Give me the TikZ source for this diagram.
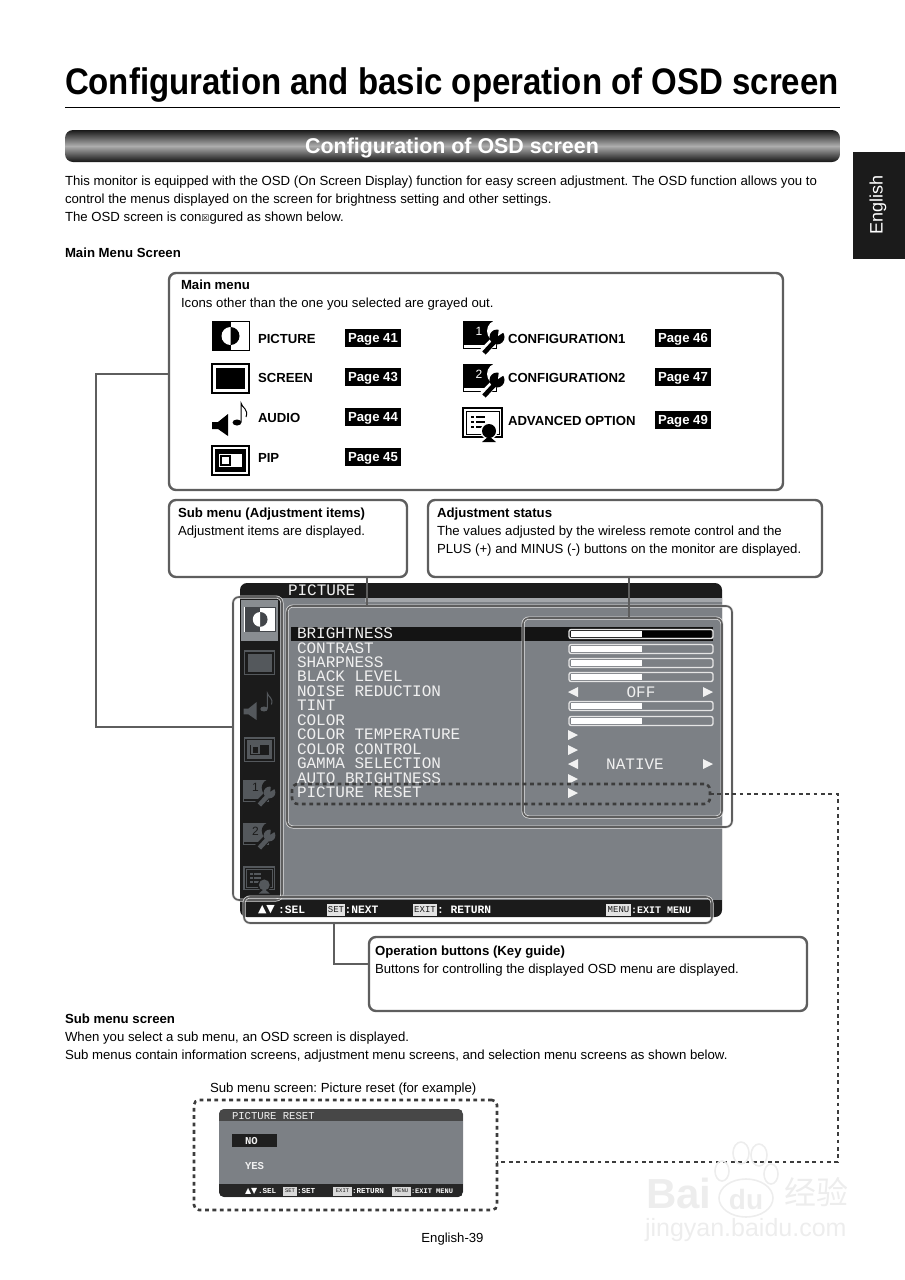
\documentclass[tikz,border=0pt]{standalone}
\usepackage{fontspec}
\setmainfont{Liberation Sans}
\setmonofont{Liberation Mono}
\newfontfamily\symfont{DejaVu Sans}
\newfontfamily\cjkfont{Noto Sans CJK SC}
\usetikzlibrary{positioning}

\newcommand{\fsz}[1]{\fontsize{#1}{#1}\selectfont}
\definecolor{osdbody}{HTML}{7C8085}
\definecolor{osddark}{HTML}{1B1B1B}
\definecolor{osdicon}{HTML}{54585C}
\definecolor{lineink}{HTML}{5E5E5E}
\definecolor{dotink}{HTML}{3C3C3C}
\colorlet{iconink}{black}
\colorlet{iconpaper}{white}

\tikzset{
  pics/iconpicture/.style={code={
    \draw[iconink, line width=.8, fill=iconpaper] (0,0) rectangle (37,29);
    \fill[iconink] (0,0) rectangle (18.5,29);
    \fill[iconink] (18.5,23.5) arc (90:-90:9) -- cycle;
    \fill[iconpaper] (18.5,23.5) arc (90:270:9) -- cycle;
  }},
  pics/iconscreen/.style={code={
    \draw[iconink, line width=1.2] (0,0) rectangle (37,29);
    \fill[iconink] (4,4) rectangle (33,25);
  }},
  pics/iconaudio/.style={code={
    \fill[iconink] (0,19) -- (6,19) -- (16,11) -- (16,33) -- (6,26) -- (0,26) -- cycle;
    \fill[iconink] (25,19.5) ellipse (4.5 and 3);
    \draw[iconink, line width=1] (29,19) -- (29,0) .. controls (30,5) and (37,6) .. (34,14);
  }},
  pics/iconpip/.style={code={
    \draw[iconink, line width=1.2] (0,0) rectangle (37,29);
    \fill[iconink] (3,3) rectangle (34,26);
    \fill[iconpaper] (7,8) rectangle (30,21);
    \fill[iconink] (8,9) rectangle (19,20);
    \fill[iconpaper] (10,11) rectangle (17,18);
  }},
  pics/iconconfig/.style={code={
    \draw[iconink, line width=1] (0,0) rectangle (33,27);
    \fill[iconink] (0,0) rectangle (30,24);
    \node[text=iconpaper, font=\fsz{12}] (digit#1) at (16,10) {#1};
    \fill[iconpaper] (35,10) circle (11);
    \draw[iconpaper, line width=8] (19,32) -- (32,19);
    \draw[iconink, line width=4.6] (21,32) -- (33,19);
    \fill[iconink] (34,16) circle (7.5);
    \fill[iconpaper] (35,15) -- (44,9) -- (36,6) -- cycle;
  }},
  pics/iconadvanced/.style={code={
    \draw[iconink, line width=1.2, fill=iconpaper] (0,0) rectangle (39,29);
    \draw[iconink, line width=.8] (3,3) rectangle (36,26);
    \foreach \rowy in {9,14,19}{
      \fill[iconink] (8,\rowy-1) rectangle (11,\rowy+1);
      \fill[iconink] (13,\rowy-1) rectangle (22,\rowy+1);
    }
    \fill[iconpaper] (26,23) circle (8.5);
    \fill[iconink] (26,23) circle (7);
    \fill[iconink] (26,28) -- (33,34) -- (19,34) -- cycle;
  }},
  pics/triright/.style={code={\fill (-5,-5) -- (5,0) -- (-5,5) -- cycle;}},
  pics/trileft/.style={code={\fill (5,-5) -- (-5,0) -- (5,5) -- cycle;}},
}

\begin{document}
\frenchspacing
\begin{tikzpicture}[
  x=1pt, y=-1pt,
  inner sep=0pt, outer sep=0pt,
  bodytxt/.style={anchor=west, yshift=-1pt, text height=10pt, text depth=3pt, font=\fsz{13.2}},
  boldtxt/.style={anchor=west, yshift=-1pt, text height=10pt, text depth=3pt, font=\fsz{13.2}\bfseries},
  itemtxt/.style={anchor=west, text height=10pt, text depth=0pt, font=\fsz{13.15}\bfseries},
  pagetag/.style={fill=black, text=white, font=\fsz{13.15}\bfseries,
                  text height=9.5pt, text depth=0pt,
                  minimum width=56, minimum height=18},
  callout/.style={draw=lineink, line width=2.4, rounded corners=7, fill=white},
  osdmark/.style={draw=white!80!gray, line width=.7, double=lineink, double distance=1.6,
               rounded corners=6},
  link/.style={draw=lineink, line width=2.4},
  dotlink/.style={draw=dotink, line width=2.6, dash pattern=on 3.8pt off 3.6pt},
  osdtxt/.style={anchor=west, font=\fsz{16}\ttfamily, text=white!88!gray},
  keytxt/.style={anchor=west, font=\fsz{11.3}\ttfamily\bfseries, text=white},
  keybox/.style={fill=white!78!gray, text=osddark, font=\fsz{9}\ttfamily,
                 minimum height=12, anchor=west},
  smalltxt/.style={anchor=west, font=\fsz{10.6}\ttfamily, text=white!88!gray},
  tinytxt/.style={anchor=west, font=\fsz{7.6}\ttfamily\bfseries, text=white},
  tinybox/.style={fill=white!70!gray, text=osddark, font=\fsz{5.5}\ttfamily,
                  minimum height=9, anchor=west},
  markwater/.style={text=gray!14, font=\fsz{42}\bfseries},
]
\useasboundingbox (0,0) rectangle (905,1280);

% ---------------- Page heading ----------------
\node[anchor=west, font=\fsz{37}\bfseries, xscale=.892, transform shape] (title) at (65,85)
  {Configuration and basic operation of OSD screen};
\draw[line width=1.6] (65,107.5) -- (840,107.5);
\node[minimum width=775, minimum height=32, rounded corners=8,
      top color=black!90, bottom color=black!92, middle color=black!32,
      shading angle=0] (banner) at (452.5,146) {};
\node[font=\fsz{21.4}\bfseries, text=white] (bannertxt) at (452,148.5) {Configuration of OSD screen};
\node[fill=osddark, minimum width=52, minimum height=107] (tab) at (879,205.5) {};
\node[rotate=90, font=\fsz{18}, text=white] (tabtxt) at (878,205) {English};

\node[bodytxt] (intro1) at (65,181) {This monitor is equipped with the OSD (On Screen Display) function for easy screen adjustment. The OSD function allows you to};
\node[bodytxt] (intro2) at (65,199) {control the menus displayed on the screen for brightness setting and other settings.};
\node[bodytxt] (intro3) at (65,217) {The OSD screen is con{\symfont\fsz{9}☒}gured as shown below.};
\node[boldtxt] (mainhead) at (65,253) {Main Menu Screen};

% ---------------- Main menu box ----------------
\node[callout, minimum width=614, minimum height=217] (mainbox) at (476,381.5) {};
\node[boldtxt] (maintitle) at (181,284.5) {Main menu};
\node[bodytxt] (mainnote) at (181,302.5) {Icons other than the one you selected are grayed out.};

\pic at (212,321.5) {iconpicture};
\pic at (212,364) {iconscreen};
\pic at (212,403) {iconaudio};
\pic at (212,446) {iconpip};
\pic at (463,321) {iconconfig=1};
\pic at (463,364) {iconconfig=2};
\pic at (463,408) {iconadvanced};

\foreach \i/\itemname/\itemy/\pagenum in {1/PICTURE/338/41, 2/SCREEN/377/43, 3/AUDIO/417/44, 4/PIP/457/45}{
  \node[itemtxt] (item\i) at (258,\itemy) {\itemname};
  \node[pagetag] (page\i) at (373,\itemy) {Page \pagenum};
}
\foreach \i/\itemname/\itemy/\pagenum in {5/CONFIGURATION1/338/46, 6/CONFIGURATION2/377/47, 7/ADVANCED OPTION/420/49}{
  \node[itemtxt] (item\i) at (508,\itemy) {\itemname};
  \node[pagetag] (page\i) at (683,\itemy) {Page \pagenum};
}

% ---------------- Sub menu and status boxes ----------------
\node[callout, minimum width=238, minimum height=77] (subbox) at (288,538.5) {};
\node[boldtxt] (subtitle) at (178,512.5) {Sub menu (Adjustment items)};
\node[bodytxt] (subnote) at (178,530.5) {Adjustment items are displayed.};

\node[callout, minimum width=394, minimum height=77] (statbox) at (625,538.5) {};
\node[boldtxt] (stattitle) at (437,512.5) {Adjustment status};
\node[bodytxt] (statnote1) at (437,530.5) {The values adjusted by the wireless remote control and the};
\node[bodytxt] (statnote2) at (437,548.5) {PLUS (+) and MINUS (-) buttons on the monitor are displayed.};

% ---------------- OSD screen ----------------
\node[fill=osddark, minimum width=482, minimum height=334, rounded corners=7] (osd) at (481,750) {};
\node[fill=osdbody, minimum width=442, minimum height=302] (osdbodybox) at (501,749) {};
\fill[osddark] (240,600) rectangle (280,900);
\fill[osdbody!70!white] (365,598) rectangle (722,602);
\fill[osdbody!90!white] (241,600) rectangle (278,641);
\node[osdtxt] (osdtitle) at (288,590.5) {PICTURE};

\fill[black!92] (291,627) rectangle (713,641);
\foreach \i/\rowname/\rowy in {1/BRIGHTNESS/633.5, 2/CONTRAST/648.5, 3/SHARPNESS/662.5, 4/BLACK LEVEL/676.5,
    5/NOISE REDUCTION/691.5, 6/TINT/705.5, 7/COLOR/720.5, 8/COLOR TEMPERATURE/734.5, 9/COLOR CONTROL/749.5,
    10/GAMMA SELECTION/763.5, 11/AUTO BRIGHTNESS/778.5, 12/PICTURE RESET/792.5}{
  \node[osdtxt] (row\i) at (297,\rowy) {\rowname};
}

% sliders
\foreach \rowy in {634,649,663,677,706,721}{
  \draw[white!80!gray, line width=1.3, rounded corners=2] (569,\rowy-4.5) rectangle (713,\rowy+4.5);
  \fill[white] (571,\rowy-3) rectangle (642,\rowy+3);
}
\fill[black] (642,631) rectangle (711,637);
\begin{scope}[white!90!gray]
  \pic at (573,692) {trileft};
  \pic at (708,692) {triright};
  \pic at (573,764) {trileft};
  \pic at (708,764) {triright};
  \pic at (573,735) {triright};
  \pic at (573,750) {triright};
  \pic at (573,779) {triright};
  \pic at (573,793) {triright};
\end{scope}
\node[osdtxt, anchor=center] (offtxt) at (641,692.5) {OFF};
\node[osdtxt, anchor=center] (nativetxt) at (635,764) {NATIVE};

% side icons
\fill[white] (244,607) rectangle (275,632);
\begin{scope}
  \colorlet{iconink}{osdicon!80!black}
  \colorlet{iconpaper}{white}
  \pic[scale=.82] at (245,607.5) {iconpicture};
  \colorlet{iconink}{osdicon}
  \colorlet{iconpaper}{osddark}
  \pic[scale=.82] at (244.5,651) {iconscreen};
  \pic[scale=.82] at (243.5,693) {iconaudio};
  \pic[scale=.82] at (244.5,738) {iconpip};
  \pic[scale=.78] at (243,780) {iconconfig=1};
  \pic[scale=.78] at (243,823) {iconconfig=2};
  \pic[scale=.78] at (244,867) {iconadvanced};
\end{scope}

% key guide
\node[keytxt] (keyarrows) at (258,910) {{\symfont\fsz{11}▲▼}};
\node[keytxt] (keysel) at (278,910) {:SEL};
\node[keybox, minimum width=18] (keysetbox) at (327,910) {SET};
\node[keytxt] (keynext) at (344.5,910) {:NEXT};
\node[keybox, minimum width=24] (keyexitbox) at (413,910) {EXIT};
\node[keytxt] (keyreturn) at (437,910) {: RETURN};
\node[keybox, minimum width=25] (keymenubox) at (606,910) {MENU};
\node[keytxt, font=\fsz{10}\ttfamily\bfseries] (keymenu) at (631,910) {:EXIT MENU};

% ---------------- Marks on the screen ----------------
\node[osdmark, minimum width=49, minimum height=303] (markicons) at (257.5,748.5) {};
\node[osdmark, minimum width=445, minimum height=221] (markitems) at (509.5,716.5) {};
\node[osdmark, minimum width=199, minimum height=199] (markstat) at (622.5,717.5) {};
\node[osdmark, minimum width=468, minimum height=26] (markkeys) at (478,910) {};
\node[dotlink, rounded corners=6, minimum width=418, minimum height=20] (markreset) at (501,794) {};

\coordinate (mainout) at (169,374);
\coordinate (iconsout) at (233,727);
\coordinate (subtap) at (367,577);
\coordinate (stattap) at (629,577);
\draw[link] (mainout) -| (96,727) -- (iconsout);
\draw[link] (subtap) -- (subtap |- markitems.north);
\draw[link] (stattap) -- (stattap |- markstat.north);

% ---------------- Key guide box ----------------
\node[callout, minimum width=438, minimum height=74] (keybbox) at (588,974) {};
\node[boldtxt] (keytitle) at (375,950.5) {Operation buttons (Key guide)};
\node[bodytxt] (keynote) at (375,968.5) {Buttons for controlling the displayed OSD menu are displayed.};
\coordinate (keytap) at (334,923);
\coordinate (keyin) at (369,964);
\draw[link] (keytap) |- (keyin);

% ---------------- Sub menu screen ----------------
\node[boldtxt] (subhead) at (65,1019) {Sub menu screen};
\node[bodytxt] (subpara1) at (65,1037) {When you select a sub menu, an OSD screen is displayed.};
\node[bodytxt] (subpara2) at (65,1055) {Sub menus contain information screens, adjustment menu screens, and selection menu screens as shown below.};
\node[bodytxt] (subcap) at (210,1087.5) {Sub menu screen: Picture reset (for example)};

\node[dotlink, rounded corners=5, minimum width=303, minimum height=110] (subscreen) at (345.5,1155) {};
\node[fill=osdbody, minimum width=244, minimum height=88, rounded corners=5] (mini) at (341,1153) {};
\begin{scope}
  \clip[rounded corners=5] (219,1109) rectangle (463,1197);
  \fill[black!72] (219,1109) rectangle (463,1121);
  \fill[black!85] (219,1184) rectangle (463,1197);
\end{scope}
\node[smalltxt] (minititle) at (232,1115.5) {PICTURE RESET};
\fill[black!88] (232,1134) rectangle (277,1147);
\node[smalltxt, font=\fsz{10.6}\ttfamily\bfseries] (mininoo) at (245,1141) {NO};
\node[smalltxt, font=\fsz{10.6}\ttfamily\bfseries] (miniyes) at (245,1166) {YES};
\node[tinytxt] (miniarrows) at (245,1191) {{\symfont\fsz{8}▲▼}};
\node[tinytxt] (minisel) at (258,1191) {.SEL};
\node[tinybox, minimum width=14] (minisetbox) at (283,1191) {SET};
\node[tinytxt] (miniset) at (297,1191) {:SET};
\node[tinybox, minimum width=19] (miniexitbox) at (333,1191) {EXIT};
\node[tinytxt] (minireturn) at (352,1191) {:RETURN};
\node[tinybox, minimum width=19] (minimenubox) at (392,1191) {MENU};
\node[tinytxt, font=\fsz{7}\ttfamily\bfseries] (minimenu) at (411,1191) {:EXIT MENU};

\coordinate (dotturn) at (838,1162);
\coordinate (subin) at (497,1162);
\draw[dotlink] (markreset.east) -| (dotturn) -- (subin);

\node[font=\fsz{13.15}] (footer) at (452.5,1239) {English-39};

% ---------------- Watermark ----------------
\begin{scope}[draw=gray!14, line width=1.6]
  \draw (746,1198) ellipse (27 and 19);
  \draw (741,1153) ellipse (8 and 11);
  \draw (759,1155) ellipse (8 and 11);
  \draw (722,1171) ellipse (7 and 10);
  \draw (771,1174) ellipse (7 and 10);
\end{scope}
\node[markwater, anchor=west] (wmbai) at (646,1193) {Bai};
\node[markwater, font=\fsz{28}\bfseries] (wmdu) at (746,1199) {du};
\node[markwater, anchor=west, font=\fsz{32}\cjkfont] (wmjing) at (784,1192) {经验};
\node[markwater, anchor=west, font=\fsz{25}] (wmurl) at (645,1230) {jingyan.baidu.com};
\end{tikzpicture}
\end{document}
